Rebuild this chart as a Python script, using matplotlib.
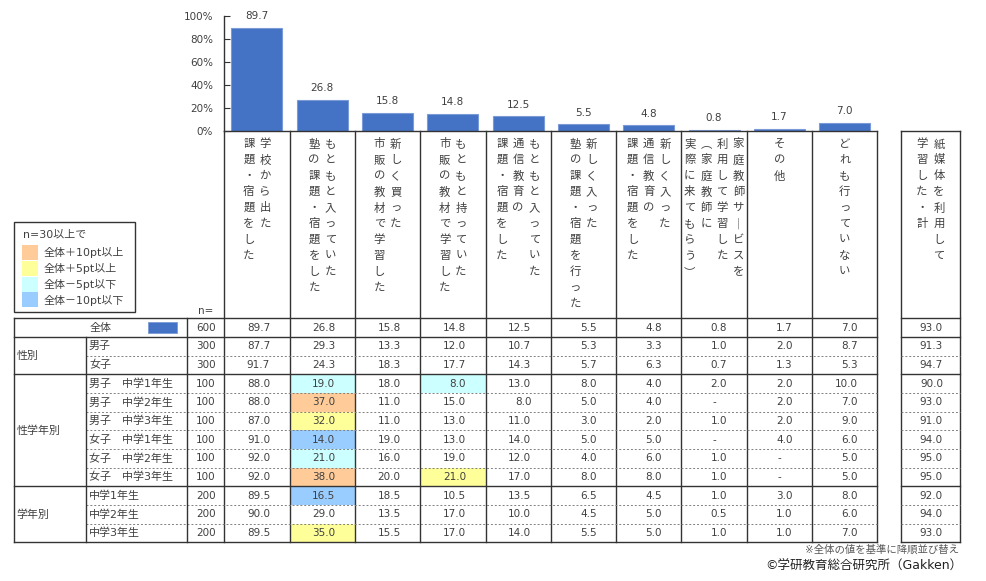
import matplotlib
matplotlib.use("Agg")
import matplotlib.pyplot as plt
from matplotlib.patches import Rectangle

# Verdana-like latin/digits, CJK glyphs from Noto
plt.rcParams["font.family"] = ["DejaVu Sans", "Noto Sans CJK JP"]
JP = ["Noto Sans CJK JP", "DejaVu Sans"]

# --- data ---------------------------------------------------------------
ITEMS = [
    ["学校から出た", "課題・宿題をした"],
    ["もともと入っていた", "塾の課題・宿題をした"],
    ["新しく買った", "市販の教材で学習した"],
    ["もともと持っていた", "市販の教材で学習した"],
    ["もともと入っていた", "通信教育の", "課題・宿題をした"],
    ["新しく入った", "塾の課題・宿題を行った"],
    ["新しく入った", "通信教育の", "課題・宿題をした"],
    ["家庭教師サービスを", "利用して学習した", "（家庭教師に", "実際に来てもらう）"],
    ["その他"],
    ["どれも行っていない"],
]
TOTAL_ITEM = ["紙媒体を利用して", "学習した・計"]

OVERALL = [89.7, 26.8, 15.8, 14.8, 12.5, 5.5, 4.8, 0.8, 1.7, 7.0]

GROUPS = [("性別", 2), ("性学年別", 6), ("学年別", 3)]
ROW_LABELS = ["全体", "男子", "女子",
              "男子　中学1年生", "男子　中学2年生", "男子　中学3年生",
              "女子　中学1年生", "女子　中学2年生", "女子　中学3年生",
              "中学1年生", "中学2年生", "中学3年生"]
ROW_N = [600, 300, 300, 100, 100, 100, 100, 100, 100, 200, 200, 200]
ROW_VALUES = [
    [89.7, 26.8, 15.8, 14.8, 12.5, 5.5, 4.8, 0.8, 1.7, 7.0],
    [87.7, 29.3, 13.3, 12.0, 10.7, 5.3, 3.3, 1.0, 2.0, 8.7],
    [91.7, 24.3, 18.3, 17.7, 14.3, 5.7, 6.3, 0.7, 1.3, 5.3],
    [88.0, 19.0, 18.0, 8.0, 13.0, 8.0, 4.0, 2.0, 2.0, 10.0],
    [88.0, 37.0, 11.0, 15.0, 8.0, 5.0, 4.0, None, 2.0, 7.0],
    [87.0, 32.0, 11.0, 13.0, 11.0, 3.0, 2.0, 1.0, 2.0, 9.0],
    [91.0, 14.0, 19.0, 13.0, 14.0, 5.0, 5.0, None, 4.0, 6.0],
    [92.0, 21.0, 16.0, 19.0, 12.0, 4.0, 6.0, 1.0, None, 5.0],
    [92.0, 38.0, 20.0, 21.0, 17.0, 8.0, 8.0, 1.0, None, 5.0],
    [89.5, 16.5, 18.5, 10.5, 13.5, 6.5, 4.5, 1.0, 3.0, 8.0],
    [90.0, 29.0, 13.5, 17.0, 10.0, 4.5, 5.0, 0.5, 1.0, 6.0],
    [89.5, 35.0, 15.5, 17.0, 14.0, 5.5, 5.0, 1.0, 1.0, 7.0],
]
ROW_TOTAL = [93.0, 91.3, 94.7, 90.0, 93.0, 91.0, 94.0, 95.0, 95.0, 92.0, 94.0, 93.0]

LEGEND_LABELS = ["全体＋10pt以上", "全体＋5pt以上", "全体－5pt以下", "全体－10pt以下"]
LEGEND_COLORS = ["#FFCC99", "#FFFF99", "#CCFFFF", "#99CCFF"]

# --- layout (pixels) ----------------------------------------------------
W, H = 987, 581
BAR_C = "#4472C4"
TXT = "#404040"
LINE = "#333333"
X0, X_CAT, X_N, X_C0 = 14.3, 86.3, 187.3, 224.3
COL_W = 65.3
X_END = X_C0 + COL_W * 10
TOT_L, TOT_R = 901.0, 960.0
Y_HDR, Y_TBL, ROW_H = 130.7, 318.3, 18.67
Y_BOT = Y_TBL + ROW_H * len(ROW_LABELS)
FS = 7.5     # numbers
FSJ = 7.9    # japanese labels

fig = plt.figure(figsize=(W / 100, H / 100), dpi=100)
ax = fig.add_axes([0, 0, 1, 1])
ax.set_xlim(0, W)
ax.set_ylim(H, 0)
ax.axis("off")

# bar chart on top
bx = fig.add_axes([X_C0 / W, (H - Y_HDR) / H, (X_END - X_C0) / W, 115.0 / H])
bx.patch.set_alpha(0)
bars = bx.bar(range(len(OVERALL)), OVERALL, width=0.78, color=BAR_C,
              edgecolor="#7A9BD8", linewidth=0.8)
for b, v in zip(bars, OVERALL):
    bx.annotate(f"{v:.1f}", (b.get_x() + b.get_width() / 2, v), xytext=(0, 8.3),
                textcoords="offset points", ha="center", va="center",
                fontsize=FS, color=TXT)
bx.set_xlim(-0.5, len(OVERALL) - 0.5)
bx.set_ylim(0, 100)
bx.set_yticks(range(0, 101, 20))
bx.set_yticklabels([f"{t}%" for t in range(0, 101, 20)])
bx.tick_params(axis="y", direction="in", length=4, width=0.8, color=LINE,
               labelsize=FS, labelcolor=TXT, pad=8)
bx.set_xticks([])
for s in ("top", "right"):
    bx.spines[s].set_visible(False)
for s in ("left", "bottom"):
    bx.spines[s].set_color(LINE)
    bx.spines[s].set_linewidth(1.0)


def vtext(lines, cx, pitch=16.2, y0=144.0, step=16.0):
    m = len(lines)
    for k, line in enumerate(lines):
        x = cx + ((m - 1) / 2 - k) * pitch
        for j, ch in enumerate(line):
            ch = {"ー": "｜", "（": "︵", "）": "︶"}.get(ch, ch)
            ax.text(x, y0 + j * step, ch, ha="center", va="center",
                    fontsize=8.2, color=TXT, family=JP)


col_x = [X_C0 + COL_W * i for i in range(11)]
for i, lines in enumerate(ITEMS):
    vtext(lines, col_x[i] + COL_W / 2)
vtext(TOTAL_ITEM, (TOT_L + TOT_R) / 2, pitch=17)

# header frame
for x in col_x[1:]:
    ax.plot([x, x], [Y_HDR, Y_BOT], color=LINE, lw=1)
ax.plot([X_C0, X_C0], [Y_HDR, Y_BOT], color=LINE, lw=1)
for x in (TOT_L, TOT_R):
    ax.plot([x, x], [Y_HDR, Y_BOT], color=LINE, lw=1)
ax.plot([TOT_L, TOT_R], [Y_HDR, Y_HDR], color=LINE, lw=1)
ax.text(206, 311.5, "n=", ha="center", va="center", fontsize=FS, color=TXT)

# table cells
base = OVERALL
for r, vals in enumerate(ROW_VALUES):
    yc = Y_TBL + ROW_H * (r + 0.5)
    for c, v in enumerate(vals):
        d = (v or 0.0) - base[c]
        fill = None
        if r > 0 and ROW_N[r] >= 30:
            if d >= 10:
                fill = LEGEND_COLORS[0]
            elif d >= 5:
                fill = LEGEND_COLORS[1]
            elif d <= -10:
                fill = LEGEND_COLORS[3]
            elif d <= -5:
                fill = LEGEND_COLORS[2]
        if fill:
            ax.add_patch(Rectangle((col_x[c], Y_TBL + ROW_H * r), COL_W, ROW_H,
                                   facecolor=fill, edgecolor="none", zorder=0))
        if v is None:
            ax.text(col_x[c] + COL_W / 2, yc, "-", ha="center", va="center",
                    fontsize=FS, color=TXT)
        else:
            ax.text(col_x[c + 1] - 19.5, yc, f"{v:.1f}", ha="right", va="center",
                    fontsize=FS, color=TXT)
    ax.text(TOT_R - 17, yc, f"{ROW_TOTAL[r]:.1f}", ha="right", va="center",
            fontsize=FS, color=TXT)
    ax.text((X_N + X_C0) / 2, yc, str(ROW_N[r]), ha="center", va="center",
            fontsize=FS, color=TXT)
    if r == 0:
        ax.text(101, yc, ROW_LABELS[r], ha="center", va="center", fontsize=FSJ, color=TXT)
        ax.add_patch(Rectangle((148, yc - 5.3), 29, 10.6, facecolor=BAR_C,
                               edgecolor="#7A9BD8", lw=0.6))
    else:
        ax.text(89, yc, ROW_LABELS[r], ha="left", va="center", fontsize=FSJ, color=TXT)

# grid lines
ax.plot([X0, X_END], [Y_TBL, Y_TBL], color=LINE, lw=1)
ax.plot([TOT_L, TOT_R], [Y_TBL, Y_TBL], color=LINE, lw=1)
row = 1
ax.plot([X0, X_END], [Y_TBL + ROW_H] * 2, color=LINE, lw=1)
ax.plot([TOT_L, TOT_R], [Y_TBL + ROW_H] * 2, color=LINE, lw=1)
for name, cnt in GROUPS:
    y_top = Y_TBL + ROW_H * row
    y_end = Y_TBL + ROW_H * (row + cnt)
    ax.text(16.7, (y_top + y_end) / 2, name, ha="left", va="center", fontsize=FSJ, color=TXT)
    for k in range(1, cnt):
        y = y_top + ROW_H * k
        ax.plot([X_CAT, X_END], [y, y], color="#808080", lw=0.7, ls=(0, (2, 2)))
        ax.plot([TOT_L, TOT_R], [y, y], color="#808080", lw=0.7, ls=(0, (2, 2)))
    ax.plot([X0, X_END], [y_end, y_end], color=LINE, lw=1)
    ax.plot([TOT_L, TOT_R], [y_end, y_end], color=LINE, lw=1)
    row += cnt
ax.plot([X0, X0], [Y_TBL, Y_BOT], color=LINE, lw=1)
ax.plot([X_CAT, X_CAT], [Y_TBL + ROW_H, Y_BOT], color=LINE, lw=1)
ax.plot([X_N, X_N], [Y_TBL, Y_BOT], color=LINE, lw=1)

# legend box
ax.add_patch(Rectangle((X0, 222.3), 121, 89.4, facecolor="white", edgecolor=LINE, lw=1))
ax.text(23.3, 234, "n=30以上で", ha="left", va="center", fontsize=FSJ, color=TXT)
for k, (lab, colr) in enumerate(zip(LEGEND_LABELS, LEGEND_COLORS)):
    y = 245 + k * 15.8
    ax.add_patch(Rectangle((22, y), 16, 15, facecolor=colr, edgecolor="none"))
    ax.text(43.3, y + 7.8, lab, ha="left", va="center", fontsize=FSJ, color=TXT)

# footnotes
ax.text(959, 550, "※全体の値を基準に降順並び替え", ha="right", va="center",
        fontsize=7.5, color="#595959")
ax.text(962, 566, "©学研教育総合研究所（Gakken）", ha="right", va="center",
        fontsize=9, color="#222222")

fig.savefig("out.png", dpi=100)
